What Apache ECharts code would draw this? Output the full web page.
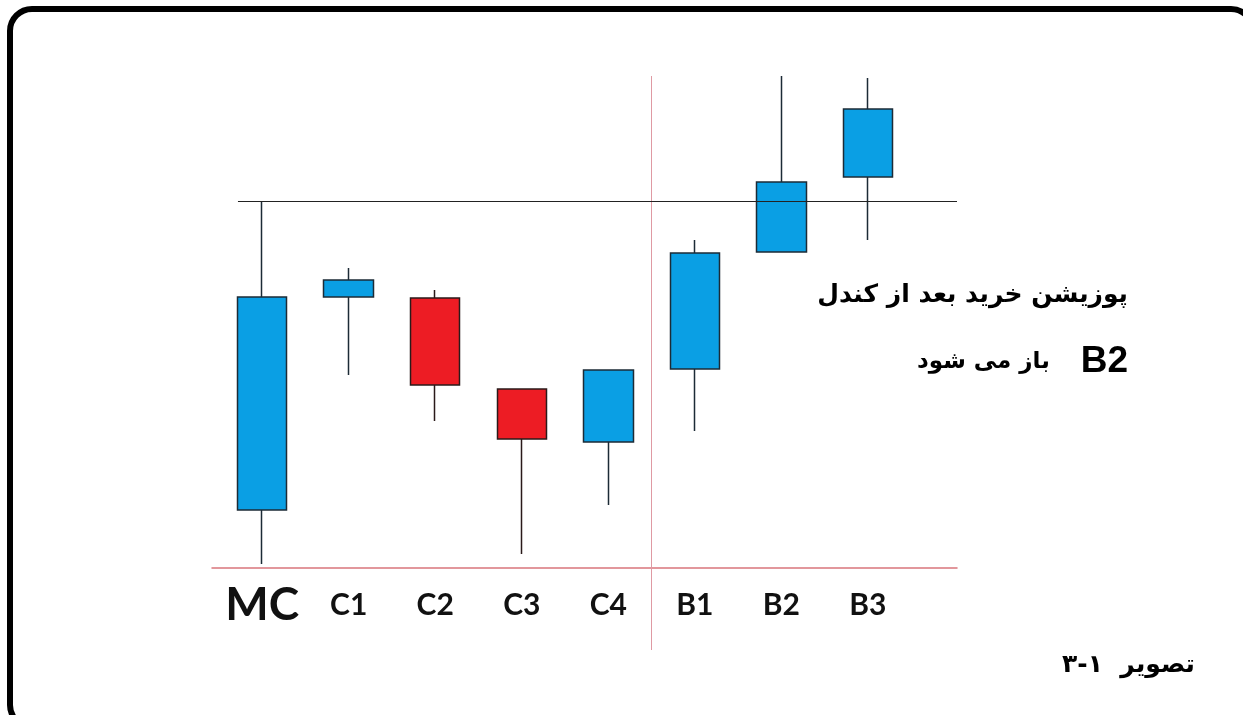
<!DOCTYPE html>
<html>
<head>
<meta charset="utf-8">
<script src="https://cdn.jsdelivr.net/npm/echarts@6/dist/echarts.min.js"></script>
<style>
  html, body { margin: 0; padding: 0; background: #fff; }
  #chart { width: 1243px; height: 715px; }
</style>
</head>
<body>
<div id="chart"></div>
<script>
// candles
const categories = ['MC', 'C1', 'C2', 'C3', 'C4', 'B1', 'B2', 'B3'];
const openVals  = [11.6, 54.2, 54.0, 35.8, 25.2, 39.8, 63.2, 78.2];
const closeVals = [54.2, 57.6, 36.6, 25.8, 39.6, 63.0, 77.2, 91.8];
const lowVals   = [0.8, 38.6, 29.4, 2.8, 12.6, 27.4, 63.2, 65.6];
const highVals  = [73.4, 60.0, 55.6, 35.8, 39.6, 65.6, 98.4, 98.0];

// reference levels
const resistance = 73.4;   // high of MC
const splitAt = 4.5;       // between C4 and B1

const noteLine1 = 'پوزیشن خرید بعد از کندل';
const noteLine2 = 'باز می شود';
const noteCandle = 'B2';
const caption = '۳-۱  تصویر';

const candleData = categories.map((c, i) => [i, openVals[i], closeVals[i], lowVals[i], highVals[i]]);

let chartDom = document.getElementById('chart');
let myChart = echarts.init(chartDom);
let option = {
  backgroundColor: '#ffffff',
  animation: false,
  grid: { left: 212, right: 286, top: 76, bottom: 65 },
  xAxis: {
    type: 'value',
    min: -0.58,
    max: 8.03,
    splitLine: { show: false },
    axisTick: { show: false },
    axisLine: { onZero: true, lineStyle: { color: '#d9757c', width: 1.5 } },
    axisLabel: {
      customValues: categories.map((c, i) => i),
      margin: -70,
      formatter: (v) => {
        const name = categories[Math.round(v)];
        return Math.round(v) === 0 ? '{big|' + name + '}' : '{small|' + name + '}';
      },
      rich: {
        big: { fontFamily: 'Lato', fontWeight: 'bold', fontSize: 46, lineHeight: 50, color: '#111' },
        small: { fontFamily: 'Lato', fontWeight: 'bold', fontSize: 30, lineHeight: 50, color: '#111' }
      }
    }
  },
  yAxis: {
    type: 'value',
    min: -16.4,
    max: 98.4,
    show: false
  },
  series: [
    {
      type: 'candlestick',
      data: candleData,
      barWidth: 50,
      itemStyle: {
        color: '#0a9fe4',
        color0: '#ed1c24',
        borderColor: '#1c2b36',
        borderColor0: '#2a1a1a',
        borderWidth: 1.5
      },
      markLine: {
        silent: true,
        symbol: 'none',
        label: { show: false },
        data: [
          { xAxis: splitAt, lineStyle: { color: '#df9aa3', width: 1, type: 'solid' } },
          [
            { coord: [-0.28, resistance], lineStyle: { color: '#222', width: 1.2, type: 'solid' } },
            { coord: [8.03, resistance] }
          ]
        ]
      }
    }
  ],
  graphic: [
    {
      type: 'rect',
      shape: { x: 10, y: 9, width: 1243, height: 718, r: 22 },
      style: { fill: 'none', stroke: '#000', lineWidth: 6 },
      silent: true
    },
    {
      type: 'text',
      x: 1128, y: 295,
      style: {
        text: noteLine1,
        align: 'right', verticalAlign: 'middle',
        font: 'bold 25px "DejaVu Sans"', fill: '#000'
      }
    },
    {
      type: 'text',
      x: 1128, y: 362,
      style: {
        text: '{fa|' + noteLine2 + '}{en|   ' + noteCandle + '}',
        align: 'right', verticalAlign: 'middle',
        rich: {
          fa: { fontFamily: 'DejaVu Sans', fontWeight: 'bold', fontSize: 23, fill: '#000' },
          en: { fontFamily: 'Liberation Sans', fontWeight: 'bold', fontSize: 37, fill: '#000' }
        }
      }
    },
    {
      type: 'text',
      x: 1195, y: 665,
      style: {
        text: caption,
        align: 'right', verticalAlign: 'middle',
        font: 'bold 25px "DejaVu Sans"', fill: '#000'
      }
    }
  ]
};
option && myChart.setOption(option);
</script>
</body>
</html>
